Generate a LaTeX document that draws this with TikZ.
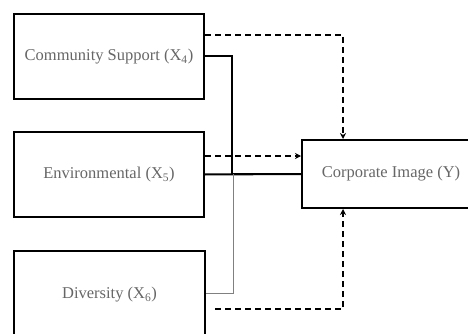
\documentclass[tikz,border=0pt]{standalone}
\usepackage{fontspec}
\setmainfont{Liberation Serif}
\usetikzlibrary{arrows.meta}
\begin{document}
\begin{tikzpicture}[x=1pt,y=-1pt,
  box/.style={draw=black, line width=2pt, inner sep=0pt, text=black!60,
    font=\fontsize{16.5}{19}\selectfont},
  solidc/.style={line width=2pt, draw=black},
  dashc/.style={line width=1.8pt, draw=black, dash pattern=on 6pt off 4pt,
    -{Stealth[length=6pt,width=6pt]}},
  thinc/.style={line width=0.9pt, draw=black!50}]
\useasboundingbox (0,0) rectangle (468,334);
\clip (0,0) rectangle (468,334);
\node[box, minimum width=190pt, minimum height=85pt] (b1) at (109,56.5) {Community Support (X\textsubscript{4})};
\node[box, minimum width=190pt, minimum height=85pt] (b2) at (109,174.5) {Environmental (X\textsubscript{5})};
\node[box, line width=2.6pt, minimum width=191pt, minimum height=88pt] (b3) at (109.5,295) {Diversity (X\textsubscript{6})};
\node[box, minimum width=178pt, minimum height=68pt] (bY) at (391,174) {Corporate Image (Y)};
\coordinate (d3) at (215,309);
% solid paths
\draw[solidc] (b1.east) -- (232,56.5) -- (232,174) -- (bY.west);
\draw[solidc] (b2.east) -- (bY.west);
\draw[thinc] (b3.east |- 0,293) -- (233,293) -- (233,174);
% dashed paths
\draw[dashc] (b1.east |- 0,35) -- (343,35) -- (bY.north -| 343,0);
\draw[dashc] (b2.east |- 0,156) -- (bY.west |- 0,156);
\draw[dashc] (d3) -- (343,309) -- (bY.south -| 343,0);
\end{tikzpicture}
\end{document}
